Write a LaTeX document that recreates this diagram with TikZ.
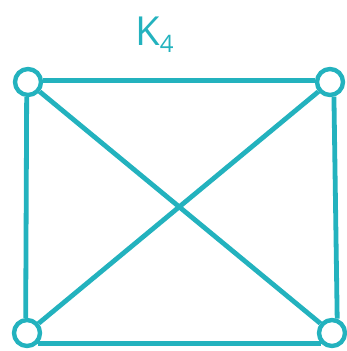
\documentclass[tikz,border=0pt]{standalone}
\usepackage{fontspec}
\setmainfont{Open Sans}
\usetikzlibrary{positioning}
\definecolor{graphteal}{RGB}{35,178,190}

\begin{document}
\begin{tikzpicture}[x=1pt, y={(0pt,-1pt)},
    vertex/.style={circle, draw=graphteal, line width=4.4pt, fill=white, minimum size=26pt, inner sep=0pt},
    edge/.style={graphteal, line width=4.8pt}]
    \useasboundingbox (0,0) rectangle (347,351);

    % Title
    \node[text=graphteal, font=\fontsize{40}{40}\selectfont, anchor=base west, inner sep=0pt] (title) at (135,45) {K\raisebox{-7pt}{\fontsize{24}{24}\selectfont 4}};

    % Vertices
    \node[vertex] (v1) at (28,82) {};
    \node[vertex] (v2) at (330,82) {};
    \node[vertex] (v3) at (27,333) {};
    \node[vertex] (v4) at (332,333) {};

    % Edges
    \draw[edge] (v1.5) -- (v2.175);
    \draw[edge] (v1.-95) -- (v3.95);
    \draw[edge] (v2.-75) -- (v4.70);
    \draw[edge] (v3.-45) -- (v4.-135);
    \draw[edge] (v1) -- (v4);
    \draw[edge] (v2) -- (v3);
\end{tikzpicture}
\end{document}
